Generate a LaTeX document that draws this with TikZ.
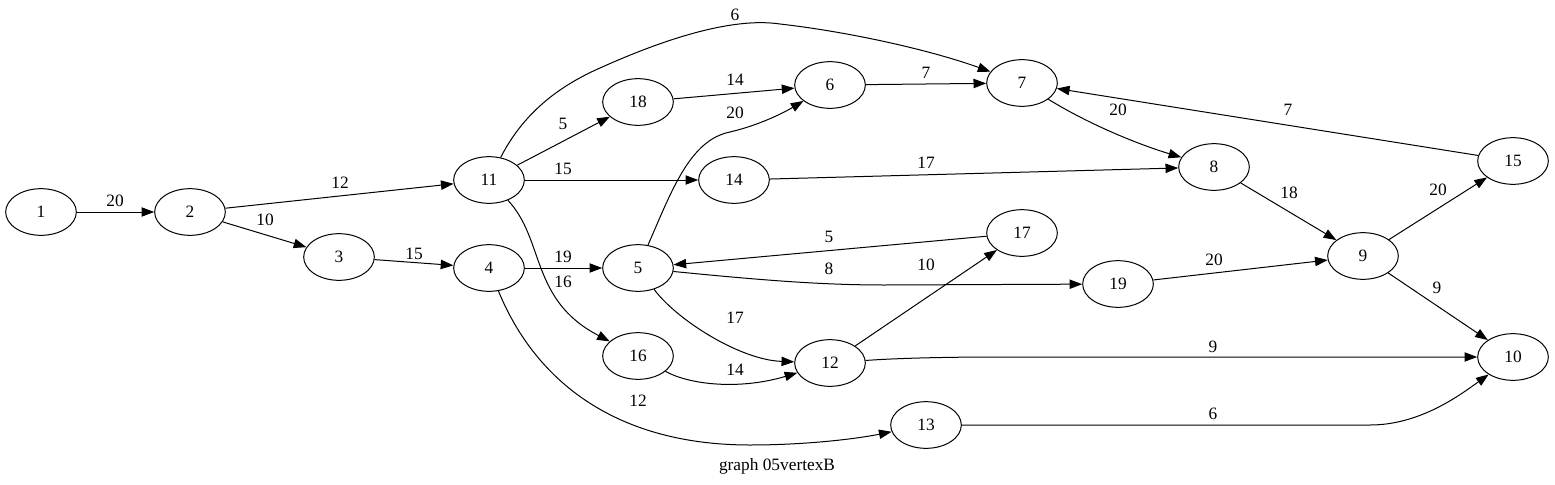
\documentclass[tikz,border=0pt]{standalone}
\usepackage{fontspec}
\setmainfont{Liberation Serif}
\usetikzlibrary{shapes.geometric,arrows.meta}
\begin{document}
\begin{tikzpicture}[x=0.75pt,y=-0.75pt,
 vtx/.style={ellipse,draw,line width=0.75pt,minimum width=53pt,minimum height=35pt,inner sep=0pt,font=\fontsize{13}{15}\selectfont},
 edge/.style={draw,line width=0.75pt,-{Triangle[length=9.5pt,width=7pt]}},
 lbl/.style={font=\fontsize{13}{15}\selectfont,inner sep=0pt}]
\useasboundingbox (0,0) rectangle (1555,485);
% nodes
\node[vtx] (n1) at (41,212) {1};
\node[vtx] (n2) at (190,212) {2};
\node[vtx] (n3) at (339,257) {3};
\node[vtx] (n4) at (489,268) {4};
\node[vtx] (n11) at (489,180) {11};
\node[vtx] (n5) at (638,268) {5};
\node[vtx] (n18) at (638,102) {18};
\node[vtx] (n16) at (638,356) {16};
\node[vtx] (n6) at (830,85) {6};
\node[vtx] (n14) at (734,180) {14};
\node[vtx] (n12) at (830,363) {12};
\node[vtx] (n7) at (1022,83) {7};
\node[vtx] (n17) at (1022,233) {17};
\node[vtx] (n13) at (926,425) {13};
\node[vtx] (n19) at (1118,284) {19};
\node[vtx] (n8) at (1214,167) {8};
\node[vtx] (n9) at (1363,256) {9};
\node[vtx] (n15) at (1513,161) {15};
\node[vtx] (n10) at (1513,357) {10};
\node[lbl] (cap) at (777,466) {graph 05vertexB};
% edges
\path[edge] (n1) -- (n2) node[lbl] at (115,201) {20};
\path[edge] (n2) -- (n11) node[lbl] at (340,183) {12};
\path[edge] (n2) -- (n3) node[lbl] at (265,220) {10};
\path[edge] (n3) -- (n4) node[lbl] at (414,254) {15};
\path[edge] (n4) -- (n5) node[lbl] at (563,257) {19};
\path[edge] (n4) .. controls (537,385) and (620,445) .. (750,445) .. controls (800,445) and (850,440) .. (n13) node[lbl] at (638,401) {12};
\path[edge] (n11) .. controls (520,120) and (550,90) .. (600,68) .. controls (680,32) and (740,18) .. (780,24) .. controls (850,32) and (930,50) .. (n7) node[lbl] at (735,15) {6};
\path[edge] (n11) -- (n18) node[lbl] at (563,124) {5};
\path[edge] (n11) -- (n14) node[lbl] at (563,169) {15};
\path[edge] (n11) .. controls (545,240) and (530,300) .. (n16) node[lbl] at (563,282) {16};
\path[edge] (n18) -- (n6) node[lbl] at (735,80) {14};
\path[edge] (n5) .. controls (672,190) and (690,140) .. (730,132) .. controls (760,125) and (785,112) .. (n6) node[lbl] at (735,113) {20};
\path[edge] (n6) -- (n7) node[lbl] at (926,73) {7};
\path[edge] (n7) .. controls (1090,125) and (1140,145) .. (n8) node[lbl] at (1118,110) {20};
\path[edge] (n14) -- (n8) node[lbl] at (926,163) {17};
\path[edge] (n15) -- (n7) node[lbl] at (1288,110) {7};
\path[edge] (n8) -- (n9) node[lbl] at (1289,193) {18};
\path[edge] (n17) -- (n5) node[lbl] at (829,237) {5};
\path[edge] (n5) .. controls (760,280) and (820,285) .. (885,285) -- (n19) node[lbl] at (829,269) {8};
\path[edge] (n5) .. controls (677,320) and (740,360) .. (n12) node[lbl] at (735,318) {17};
\path[edge] (n12) -- (n17) node[lbl] at (926,265) {10};
\path[edge] (n19) -- (n9) node[lbl] at (1214,260) {20};
\path[edge] (n9) -- (n15) node[lbl] at (1438,190) {20};
\path[edge] (n9) -- (n10) node[lbl] at (1437,288) {9};
\path[edge] (n16) .. controls (690,385) and (740,390) .. (n12) node[lbl] at (735,370) {14};
\path[edge] (n12) .. controls (900,358) and (950,357) .. (1000,357) -- (n10) node[lbl] at (1213,347) {9};
\path[edge] (n13) -- (1370,425) .. controls (1420,425) and (1460,395) .. (n10) node[lbl] at (1213,414) {6};
\end{tikzpicture}
\end{document}
